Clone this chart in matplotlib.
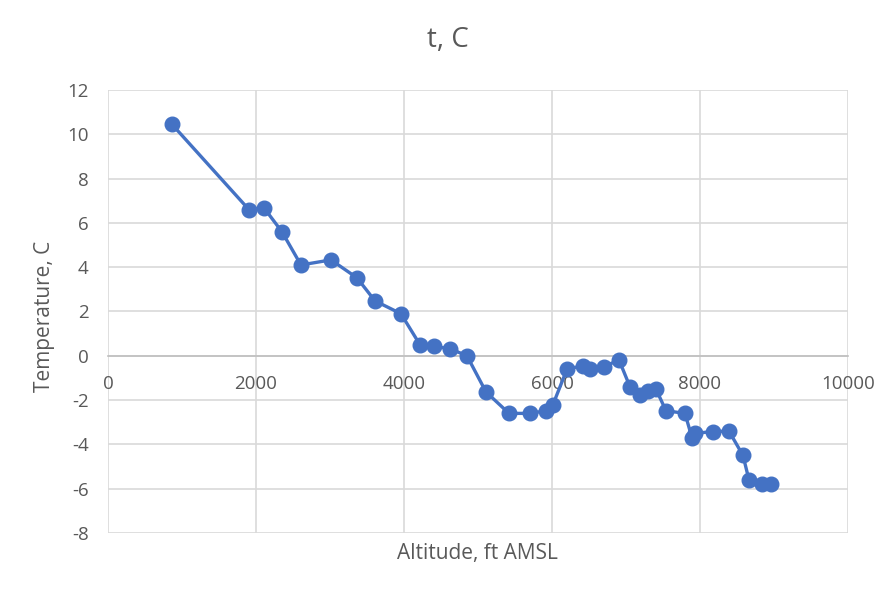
import matplotlib.pyplot as plt

# sounding data
altitude_ft = [865, 1905, 2108, 2351, 2608, 3014, 3365, 3608, 3959, 4216,
               4405, 4622, 4851, 5108, 5419, 5703, 5919, 6014, 6203, 6419,
               6514, 6703, 6905, 7054, 7189, 7297, 7405, 7540, 7797, 7892,
               7932, 8176, 8392, 8581, 8662, 8838, 8959]
temp_c = [10.45, 6.6, 6.68, 5.6, 4.1, 4.33, 3.52, 2.48, 1.9, 0.5,
          0.42, 0.32, 0.0, -1.63, -2.6, -2.6, -2.48, -2.2, -0.6, -0.45,
          -0.6, -0.5, -0.18, -1.4, -1.76, -1.6, -1.5, -2.48, -2.6, -3.7,
          -3.5, -3.42, -3.4, -4.5, -5.6, -5.8, -5.8]

x_ticks = [0, 2000, 4000, 6000, 8000, 10000]
y_ticks = [-8, -6, -4, -2, 0, 2, 4, 6, 8, 10, 12]

plt.rcParams['font.family'] = ['Open Sans', 'DejaVu Sans']
plt.rcParams['axes.unicode_minus'] = False
text_col = '#595959'
grid_col = '#d9d9d9'

fig = plt.figure(figsize=(8.9, 5.89), dpi=100)
ax = fig.add_axes([0.1213, 0.0951, 0.8315, 0.7521])

ax.plot(altitude_ft, temp_c, color='#4472C4', linewidth=2.4,
        marker='o', markersize=10.5, zorder=3)

ax.set_xlim(0, 10000)
ax.set_ylim(-8, 12)
ax.set_xticks(x_ticks)
ax.set_yticks(y_ticks)
ax.grid(True, color=grid_col, linewidth=1.2, zorder=0)
ax.set_axisbelow(True)

for side in ['left', 'right', 'top']:
    ax.spines[side].set_visible(False)
ax.spines['bottom'].set_position(('data', 0))
ax.spines['bottom'].set_color('#bfbfbf')
ax.spines['bottom'].set_linewidth(1.2)

ax.tick_params(axis='both', length=0, labelsize=13.5, labelcolor=text_col)
ax.tick_params(axis='x', pad=14)
ax.tick_params(axis='y', pad=14)

ax.set_ylabel('Temperature, C', fontsize=15, color=text_col)
ax.yaxis.set_label_coords(-0.072, 0.49)
fig.text(0.537, 0.06, 'Altitude, ft AMSL', fontsize=15, color=text_col,
         ha='center', va='center')
fig.text(0.503, 0.932, 't, C', fontsize=20, color=text_col,
         ha='center', va='center')

fig.savefig('out.png', dpi=100)
